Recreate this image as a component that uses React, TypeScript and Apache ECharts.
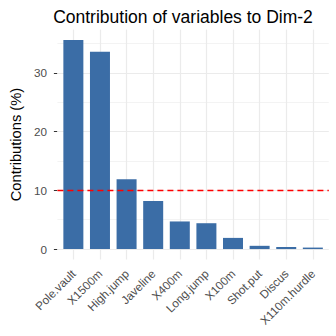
import React, { useEffect, useRef } from "react";
import * as echarts from "echarts";

const categories = [
  "Pole.vault",
  "X1500m",
  "High.jump",
  "Javeline",
  "X400m",
  "Long.jump",
  "X100m",
  "Shot.put",
  "Discus",
  "X110m.hurdle",
];
const contributions = [35.6, 33.6, 11.9, 8.2, 4.7, 4.4, 1.9, 0.55, 0.35, 0.25];
const yMajorTicks = [0, 10, 20, 30];
const yMinorTicks = [5, 15, 25, 35];
const threshold = 10;

export default function App() {
  const ref = useRef<HTMLDivElement>(null);
  useEffect(() => {
    if (!ref.current) return;
    const chart = echarts.init(ref.current, undefined, { renderer: "svg" });
    const positions = categories.map((_, i) => i + 1);
    const maxV = Math.max(...contributions);
    const yMin = -0.05 * maxV;
    const yMax = maxV * 1.05;
    const font = "Liberation Sans, Arial, sans-serif";
    chart.setOption({
      animation: false,
      backgroundColor: "#ffffff",
      title: {
        text: "Contribution of variables to Dim-2",
        left: 178,
        textAlign: "center",
        top: 3,
        textStyle: { fontSize: 17.5, fontWeight: "normal", color: "#000", fontFamily: font },
      },
      grid: { left: 47.5, right: 7.2, top: 29.6, bottom: 76.5, containLabel: false },
      xAxis: {
        type: "value",
        min: 0.4,
        max: 10.6,
        axisLine: { show: false },
        splitLine: { show: false },
        axisTick: {
          show: true,
          customValues: positions,
          length: 3.5,
          lineStyle: { color: "#333", width: 1 },
        },
        axisLabel: {
          customValues: positions,
          rotate: 45,
          margin: 12,
          fontSize: 11.7,
          color: "#4d4d4d",
          fontFamily: font,
          formatter: (v: number) => categories[Math.round(v) - 1] ?? "",
        },
      },
      yAxis: {
        type: "value",
        min: yMin,
        max: yMax,
        name: "Contributions (%)",
        nameLocation: "middle",
        nameRotate: 90,
        nameGap: 29,
        nameTextStyle: { fontSize: 14.7, color: "#000", fontFamily: font },
        axisLine: { show: false },
        splitLine: { show: false },
        axisTick: {
          show: true,
          customValues: yMajorTicks,
          length: 3.5,
          lineStyle: { color: "#333", width: 1 },
        },
        axisLabel: {
          customValues: yMajorTicks,
          fontSize: 11.7,
          margin: 10.5,
          color: "#4d4d4d",
          fontFamily: font,
        },
      },
      series: [
        {
          type: "line",
          data: [],
          z: 1,
          silent: true,
          markLine: {
            z: 1,
            silent: true,
            symbol: "none",
            label: { show: false },
            emphasis: { disabled: true },
            data: [
              ...yMinorTicks.map((v) => ({ yAxis: v, lineStyle: { color: "#f0f0f0", width: 0.8, type: "solid" } })),
              ...yMajorTicks.map((v) => ({ yAxis: v, lineStyle: { color: "#ebebeb", width: 1.2, type: "solid" } })),
              ...positions.map((v) => ({ xAxis: v, lineStyle: { color: "#ebebeb", width: 1.2, type: "solid" } })),
            ],
          },
        },
        {
          type: "bar",
          z: 2,
          barWidth: 20,
          data: contributions.map((v, i) => [positions[i], v]),
          itemStyle: { color: "#3B6DA6" },
          markLine: {
            z: 5,
            silent: true,
            symbol: "none",
            label: { show: false },
            emphasis: { disabled: true },
            data: [{ yAxis: threshold }],
            lineStyle: { color: "#ff0000", width: 1.4, type: [6, 4] },
          },
        },
      ],
    });
    return () => chart.dispose();
  }, []);
  return (
    <div
      ref={ref}
      style={{ position: "absolute", left: 0, top: 0, width: 336, height: 336 }}
    />
  );
}
